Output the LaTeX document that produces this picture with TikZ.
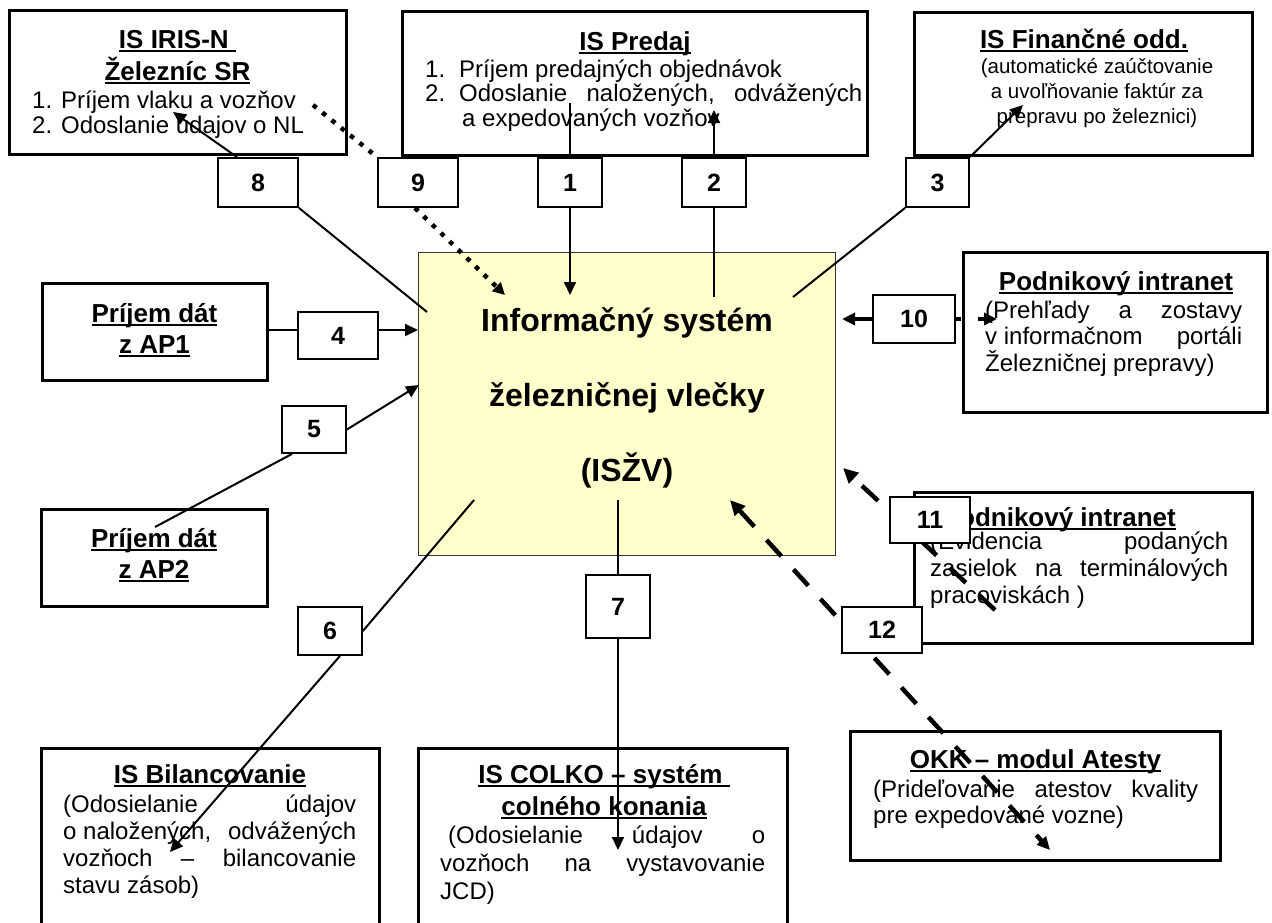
\documentclass[tikz,border=0pt]{standalone}
\usepackage{fontspec}
\setmainfont{Liberation Sans}
\usetikzlibrary{arrows.meta,calc}
\pgfdeclarelayer{boxes}
\pgfdeclarelayer{lines}
\pgfsetlayers{boxes,lines,main}
\newcommand\myul[1]{\leavevmode\setbox0=\hbox{#1}\rlap{\rule[-3.6pt]{\wd0}{2pt}}\box0}
\newcommand\myTitle{\fontsize{26}{32}\selectfont\bfseries}
\newcommand\myBody{\fontsize{24}{26.5}\selectfont}
\definecolor{mainfill}{HTML}{FFFFCC}
\begin{document}
\begin{tikzpicture}[x=1pt,y=-1pt,
  sys/.style={draw, line width=3pt, inner sep=0pt, fill=white},
  num/.style={draw, line width=1.8pt, fill=white, inner sep=0pt, font=\fontsize{25}{25}\selectfont\bfseries},
  txt/.style={inner sep=0pt},
  link/.style={line width=2pt},
  myarrow/.style={-{Triangle[length=13pt,width=12pt]}},
  dashlink/.style={line width=4.5pt, dash pattern=on 22pt off 18pt},
  dotlink/.style={line width=4.5pt, dash pattern=on 4.5pt off 7.5pt}]
\path[use as bounding box] (0,0) rectangle (1272,922);

\begin{pgfonlayer}{boxes}
% main box
\node[draw=black!80, line width=1pt, fill=mainfill, minimum width=417, minimum height=303, inner sep=0pt] (main) at (626.5,403.5) {};
\node[txt, anchor=base] (main-t) at (627,331) {\parbox[t]{400pt}{\centering\fontsize{32}{75}\selectfont\bfseries Informačný systém\\železničnej vlečky\\(ISŽV)}};

% IRIS
\node[sys, minimum width=337, minimum height=144] (iris) at (177.5,82) {};
\node[txt, anchor=base] (iris-t) at (177.5,48) {\parbox[t]{330pt}{\centering\myTitle \myul{IS IRIS-N\ }\\\myul{Železníc SR}}};
\node[txt, anchor=base west] (iris-b) at (32,108) {\parbox[t]{300pt}{\fontsize{24}{25.5}\selectfont 1. Príjem vlaku a vozňov\\2. Odoslanie údajov o NL}};

% Predaj
\node[sys, minimum width=465, minimum height=144] (predaj) at (634.5,83) {};
\node[txt, anchor=base] (predaj-t) at (635,50) {\myTitle\myul{IS Predaj}};
\node[txt, anchor=base west] (predaj-b) at (425,77) {\parbox[t]{437pt}{\fontsize{24}{24.5}\selectfont \makebox[34pt][l]{1.}Príjem predajných objednávok\\\makebox[34pt][l]{2.}Odoslanie\hfill naložených,\hfill odvážených\\\hspace*{37pt}a expedovaných vozňov}};

% Financne
\node[sys, minimum width=338, minimum height=143] (fin) at (1083,83.5) {};
\node[txt, anchor=base] (fin-t) at (1084,48) {\myTitle\myul{IS Finančné odd.}};
\node[txt, anchor=base] (fin-b) at (1097,73) {\parbox[t]{330pt}{\centering\fontsize{20.5}{25}\selectfont (automatické zaúčtovanie\\a uvoľňovanie faktúr za\\prepravu po železnici)}};

% Intranet 1
\node[sys, minimum width=304, minimum height=160] (intr1) at (1115,332) {};
\node[txt, anchor=base] (intr1-t) at (1116,290) {\myTitle\myul{Podnikový intranet}};
\node[txt, anchor=base west] (intr1-b) at (985,318) {\parbox[t]{257pt}{\myBody (Prehľady\hfill a\hfill zostavy\\v informačnom\hfill portáli\\Železničnej prepravy)}};

% Intranet 2
\node[sys, minimum width=338, minimum height=151] (intr2) at (1083,567.5) {};
\node[txt, anchor=base east] (intr2-t) at (1176,526) {\myTitle\myul{Podnikový intranet}};
\node[txt, anchor=base west] (intr2-b) at (930,549) {\parbox[t]{298pt}{\fontsize{24}{27}\selectfont (Evidencia\hfill podaných\\zasielok\hfill na\hfill terminálových\\pracoviskách )}};

% OKK
\node[sys, minimum width=370, minimum height=129] (okk) at (1035,795.5) {};
\node[txt, anchor=base] (okk-t) at (1035.5,768) {\myTitle\myul{OKK – modul Atesty}};
\node[txt, anchor=base west] (okk-b) at (873,797) {\parbox[t]{325pt}{\fontsize{24}{26}\selectfont (Prideľovanie\hfill atestov\hfill kvality\\pre expedované vozne)}};

% AP1, AP2
\node[sys, minimum width=225, minimum height=97] (ap1) at (154.5,331.5) {};
\node[txt, anchor=base] (ap1-t) at (154.5,322) {\parbox[t]{220pt}{\centering\fontsize{26}{31}\selectfont\bfseries \myul{Príjem dát}\\\myul{z AP1}}};
\node[sys, minimum width=226, minimum height=97] (ap2) at (154,557.5) {};
\node[txt, anchor=base] (ap2-t) at (154,547) {\parbox[t]{220pt}{\centering\fontsize{26}{31}\selectfont\bfseries \myul{Príjem dát}\\\myul{z AP2}}};

% Bilancovanie
\node[sys, minimum width=338, minimum height=212] (bil) at (210,854) {};
\node[txt, anchor=base] (bil-t) at (210,783) {\myTitle\myul{IS Bilancovanie}};
\node[txt, anchor=base west] (bil-b) at (63,812) {\parbox[t]{293pt}{\fontsize{24}{27}\selectfont (Odosielanie\hfill údajov\\o naložených,\hfill odvážených\\vozňoch\hfill –\hfill bilancovanie\\stavu zásob)}};

% COLKO
\node[sys, minimum width=369, minimum height=212] (colko) at (602.5,854) {};
\node[txt, anchor=base] (colko-t) at (604,783) {\parbox[t]{360pt}{\centering\myTitle \myul{IS COLKO – systém\ }\\\myul{colného konania}}};
\node[txt, anchor=base west] (colko-b) at (440,843) {\parbox[t]{325pt}{\fontsize{24}{28}\selectfont \hspace*{8pt}(Odosielanie\hfill údajov\hfill o\\vozňoch\hfill na\hfill vystavovanie\\JCD)}};
\end{pgfonlayer}

% number labels
\node[num, minimum width=80, minimum height=49] (l8) at (258,182.5) {8};
\node[num, minimum width=80, minimum height=49] (l9) at (418,182.5) {9};
\node[num, minimum width=64, minimum height=49] (l1) at (570,182.5) {1};
\node[num, minimum width=64, minimum height=49] (l2) at (714,182.5) {2};
\node[num, minimum width=63, minimum height=49] (l3) at (937.5,182.5) {3};
\node[num, minimum width=80, minimum height=47] (l4) at (338,335.5) {4};
\node[num, minimum width=64, minimum height=47] (l5) at (314,429.5) {5};
\node[num, minimum width=64, minimum height=48] (l6) at (330,631) {6};
\node[num, minimum width=64, minimum height=63] (l7) at (618,606.5) {7};
\node[num, minimum width=82, minimum height=48] (l10) at (914,319) {10};
\node[num, minimum width=80, minimum height=46] (l11) at (930,520) {11};
\node[num, minimum width=80, minimum height=46] (l12) at (882,630) {12};

% free ends
\coordinate (p1a) at (570,103);  \coordinate (p1b) at (570,295);
\coordinate (p2a) at (714,297);  \coordinate (p2b) at (714,110);
\coordinate (p3a) at (793,297);  \coordinate (p3b) at (1023,105);
\coordinate (p4a) at (267,330);  \coordinate (p4b) at (418,330);
\coordinate (p5a) at (155,527);  \coordinate (p5b) at (419,385);
\coordinate (p6a) at (474,500);  \coordinate (p6b) at (170,852);
\coordinate (p7a) at (618,500);  \coordinate (p7b) at (618,850);
\coordinate (p8a) at (427,312);  \coordinate (p8b) at (173,112);
\coordinate (p9a) at (313,105);  \coordinate (p9b) at (505,295);
\coordinate (p10a) at (842,319); \coordinate (p10b) at (997,319);
\coordinate (p11a) at (995,610); \coordinate (p11b) at (843,468);
\coordinate (p12a) at (730,500); \coordinate (p12b) at (1050,850);

\begin{pgfonlayer}{lines}
% 1
\draw[link] (p1a) -- (l1.north);
\draw[link, myarrow] (l1.south) -- (p1b);
% 2
\draw[link] (p2a) -- (l2.south);
\draw[link, myarrow] (l2.north) -- (p2b);
% 3
\draw[link] (p3a) -- (l3.south west);
\draw[link, myarrow] (l3.north east) -- (p3b);
% 4
\draw[link] (p4a) -- (p4a -| l4.west);
\draw[link, myarrow] (p4a -| l4.east) -- (p4b);
% 5
\draw[link] (p5a) -- ($(l5.south west)+(11,0)$);
\draw[link, myarrow] (l5.east) -- (p5b);
% 6
\draw[link] (p6a) -- (l6.east);
\draw[link, myarrow] ($(l6.south)+(10,0)$) -- (p6b);
% 7
\draw[link] (p7a) -- (l7.north);
\draw[link, myarrow] (l7.south) -- (p7b);
% 8
\draw[link] (p8a) -- (l8.south east);
\draw[link, myarrow] ($(l8.north)+(-21,0)$) -- (p8b);
% 9 dotted
\draw[dotlink] (p9a) -- (l9.north west);
\draw[dotlink, -{Triangle[length=12pt,width=12pt]}] ($(l9.south)+(-3,0)$) -- (p9b);
% 10
\draw[line width=3.5pt, myarrow] (l10.west) -- (p10a);
\draw[line width=3.5pt, dash pattern=on 5pt off 17pt on 40pt, myarrow] (l10.east) -- (p10b);
% 11 dashed
\draw[dashlink, -{Triangle[length=15pt,width=14pt]}] (p11a) -- (p11b);
% 12 dashed, both ways
\draw[dashlink, {Triangle[length=15pt,width=14pt]}-{Triangle[length=13pt,width=12pt]}] (p12a) -- (p12b);
\end{pgfonlayer}
\end{tikzpicture}
\end{document}
